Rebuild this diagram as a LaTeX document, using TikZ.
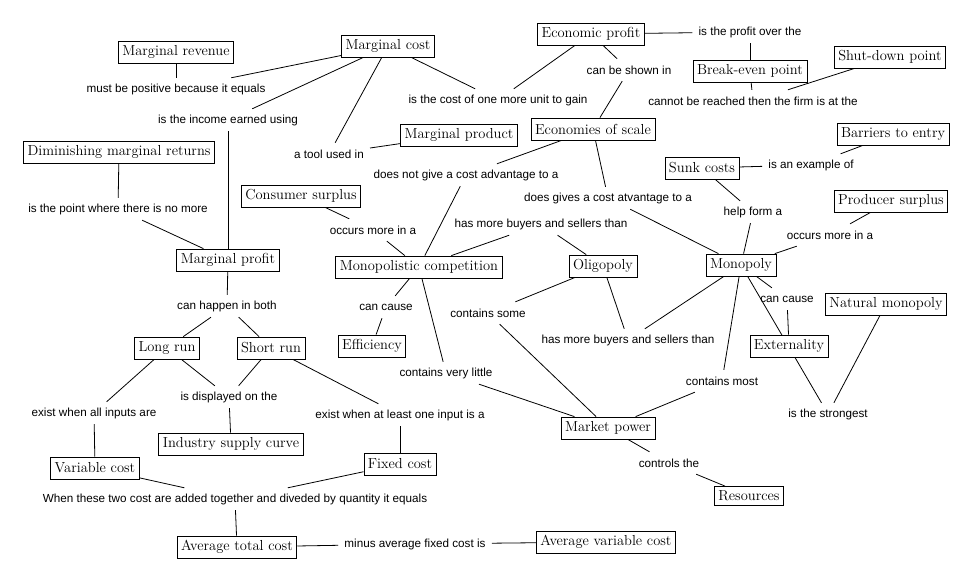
\documentclass[tikz,border=0pt]{standalone}
\usepackage{fontspec}
\newfontfamily\lblfont{Liberation Sans}
\usetikzlibrary{backgrounds}
\begin{document}
\begin{tikzpicture}[x=1pt,y=-1pt,
  concept/.style={draw, line width=0.8pt, fill=white, inner xsep=4pt, inner ysep=2pt,
    minimum height=22pt, font=\fontsize{14.5}{16}\selectfont},
  link/.style={inner xsep=6pt, inner ysep=0pt, minimum height=22pt,
    font=\lblfont\fontsize{11.7}{13}\selectfont},
  conn/.style={line width=0.8pt}]
\useasboundingbox (0,0) rectangle (970,581);
% concepts
\node[concept] (mr) at (176,52) {Marginal revenue};
\node[concept] (mc) at (388,46) {Marginal cost};
\node[concept] (dmr) at (119,152) {Diminishing marginal returns};
\node[concept] (mprod) at (459,135) {Marginal product};
\node[concept] (eos) at (593,129) {Economies of scale};
\node[concept] (ep) at (591,34) {Economic profit};
\node[concept] (bep) at (750,71) {Break-even point};
\node[concept] (sdp) at (890,57) {Shut-down point};
\node[concept] (bte) at (893,134) {Barriers to entry};
\node[concept] (sc) at (702,168) {Sunk costs};
\node[concept] (cs) at (301,196) {Consumer surplus};
\node[concept] (mpf) at (228,260) {Marginal profit};
\node[concept] (mcomp) at (419,267) {Monopolistic competition};
\node[concept] (olig) at (603,266) {Oligopoly};
\node[concept] (mono) at (741,265) {Monopoly};
\node[concept] (ps) at (891,201) {Producer surplus};
\node[concept] (nm) at (886,304) {Natural monopoly};
\node[concept] (ext) at (789,346) {Externality};
\node[concept] (lr) at (167,348) {Long run};
\node[concept] (sr) at (271,348) {Short run};
\node[concept] (eff) at (372,346) {Efficiency};
\node[concept] (isc) at (231,444) {Industry supply curve};
\node[concept] (vc) at (95,468) {Variable cost};
\node[concept] (fc) at (400,464) {Fixed cost};
\node[concept] (atc) at (237,547) {Average total cost};
\node[concept] (avc) at (606,542) {Average variable cost};
\node[concept] (mkp) at (608,428) {Market power};
\node[concept, minimum height=19pt] (res) at (749,496) {Resources};
% linking phrases
\node[link] (l1) at (176,89) {must be positive because it equals};
\node[link] (l2) at (228,120) {is the income earned using};
\node[link] (l3) at (498,100) {is the cost of one more unit to gain};
\node[link] (l4) at (329,154) {a tool used in};
\node[link] (l5) at (629,70) {can be shown in};
\node[link] (l6) at (750,32) {is the profit over the};
\node[link] (l7) at (753,101) {cannot be reached then the firm is at the};
\node[link] (l8) at (811,165) {is an example of};
\node[link] (l9) at (466,175) {does not give a cost advantage to a};
\node[link] (l10) at (608,198) {does gives a cost atvantage to a};
\node[link] (l11) at (753,212) {help form a};
\node[link] (l12) at (541,224) {has more buyers and sellers than};
\node[link] (l13) at (373,230) {occurs more in a};
\node[link] (l14) at (830,235) {occurs more in a};
\node[link] (l15) at (118,209) {is the point where there is no more};
\node[link] (l16) at (227,306) {can happen in both};
\node[link] (l17) at (386,307) {can cause};
\node[link] (l18) at (488,313) {contains some};
\node[link] (l19) at (628,340) {has more buyers and sellers than};
\node[link] (l20) at (787,299) {can cause};
\node[link] (l21) at (446,373) {contains very little};
\node[link] (l22) at (722,381) {contains most};
\node[link] (l23) at (828,414) {is the strongest};
\node[link] (l24) at (229,397) {is displayed on the};
\node[link] (l25) at (94,413) {exist when all inputs are};
\node[link] (l26) at (400,415) {exist when at least one input is a};
\node[link] (l27) at (235,499) {When these two cost are added together and diveded by quantity it equals};
\node[link] (l28) at (415,544) {minus average fixed cost is};
\node[link] (l29) at (669,463) {controls the};
% connectors
\begin{scope}[on background layer]
\fill[white] (0,0) rectangle (970,581);
\draw[conn] (mr) -- (l1);
\draw[conn] (l1) -- (mc);
\draw[conn] (mc) -- (l2);
\draw[conn] (l2) -- (mpf);
\draw[conn] (mc) -- (l4);
\draw[conn] (l4) -- (mprod);
\draw[conn] (mc) -- (l3);
\draw[conn] (l3) -- (ep);
\draw[conn] (ep) -- (l5);
\draw[conn] (l5) -- (eos);
\draw[conn] (ep) -- (l6);
\draw[conn] (l6) -- (bep);
\draw[conn] (bep) -- (l7);
\draw[conn] (l7) -- (sdp);
\draw[conn] (eos) -- (l9);
\draw[conn] (l9) -- (mcomp);
\draw[conn] (eos) -- (l10);
\draw[conn] (l10) -- (mono);
\draw[conn] (sc) -- (l8);
\draw[conn] (l8) -- (bte);
\draw[conn] (sc) -- (l11);
\draw[conn] (l11) -- (mono);
\draw[conn] (ps) -- (l14);
\draw[conn] (l14) -- (mono);
\draw[conn] (cs) -- (l13);
\draw[conn] (l13) -- (mcomp);
\draw[conn] (mcomp) -- (l12);
\draw[conn] (l12) -- (olig);
\draw[conn] (olig) -- (l19);
\draw[conn] (l19) -- (mono);
\draw[conn] (olig) -- (l18);
\draw[conn] (l18) -- (mkp);
\draw[conn] (mcomp) -- (l17);
\draw[conn] (l17) -- (eff);
\draw[conn] (mcomp) -- (l21);
\draw[conn] (l21) -- (mkp);
\draw[conn] (mono) -- (l22);
\draw[conn] (l22) -- (mkp);
\draw[conn] (mono) -- (l20);
\draw[conn] (l20) -- (ext);
\draw[conn] (mono) -- (l23);
\draw[conn] (nm) -- (l23);
\draw[conn] (mpf) -- (l16);
\draw[conn] (l16) -- (lr);
\draw[conn] (l16) -- (sr);
\draw[conn] (dmr) -- (l15);
\draw[conn] (l15) -- (mpf);
\draw[conn] (lr) -- (l25);
\draw[conn] (l25) -- (vc);
\draw[conn] (lr) -- (l24);
\draw[conn] (sr) -- (l24);
\draw[conn] (l24) -- (isc);
\draw[conn] (sr) -- (l26);
\draw[conn] (l26) -- (fc);
\draw[conn] (vc) -- (l27);
\draw[conn] (fc) -- (l27);
\draw[conn] (l27) -- (atc);
\draw[conn] (atc) -- (l28);
\draw[conn] (l28) -- (avc);
\draw[conn] (mkp) -- (l29);
\draw[conn] (l29) -- (res);
\end{scope}
\end{tikzpicture}
\end{document}
